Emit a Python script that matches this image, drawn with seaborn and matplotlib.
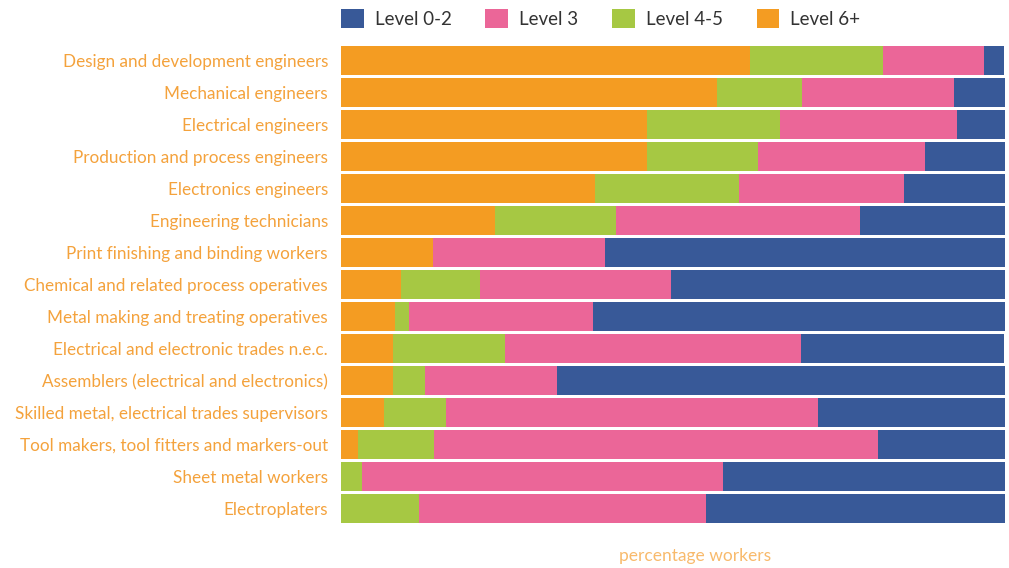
import pandas as pd
import matplotlib.pyplot as plt
import seaborn as sns
from matplotlib.patches import Patch

# --------------------------
# Data (percentage of workers by qualification level)
# --------------------------
occupations = [
    "Design and development engineers",
    "Mechanical engineers",
    "Electrical engineers",
    "Production and process engineers",
    "Electronics engineers",
    "Engineering technicians",
    "Print finishing and binding workers",
    "Chemical and related process operatives",
    "Metal making and treating operatives",
    "Electrical and electronic trades n.e.c.",
    "Assemblers (electrical and electronics)",
    "Skilled metal, electrical trades supervisors",
    "Tool makers, tool fitters and markers-out",
    "Sheet metal workers",
    "Electroplaters",
]
level_6_plus = [61.6, 56.6, 46.1, 46.1, 38.2, 23.2, 13.8, 9.1, 8.2, 7.8, 7.8, 6.5, 2.6, 0.0, 0.0]
level_4_5 = [20.1, 12.9, 20.0, 16.7, 21.7, 18.2, 0.0, 11.8, 2.0, 16.9, 4.8, 9.3, 11.4, 3.2, 11.7]
level_3 = [15.1, 22.8, 26.7, 25.2, 24.9, 36.7, 26.0, 28.8, 27.7, 44.6, 19.9, 56.0, 66.9, 54.4, 43.2]
level_0_2 = [3.1, 7.8, 7.2, 12.1, 15.2, 22.0, 60.2, 50.3, 62.1, 30.5, 67.5, 28.2, 19.1, 42.4, 45.1]

df = pd.DataFrame({
    "occupation": occupations,
    "Level 6+": level_6_plus,
    "Level 4-5": level_4_5,
    "Level 3": level_3,
    "Level 0-2": level_0_2,
})

colors = {
    "Level 0-2": "#385998",
    "Level 3": "#EB6698",
    "Level 4-5": "#A6C843",
    "Level 6+": "#F49C22",
}
label_color = "#F4A23C"

# cumulative sums from the left (6+ first)
df["c_6"] = df["Level 6+"]
df["c_45"] = df["c_6"] + df["Level 4-5"]
df["c_3"] = df["c_45"] + df["Level 3"]
df["c_02"] = df["c_3"] + df["Level 0-2"]

plt.rcParams["font.family"] = ["Lato", "DejaVu Sans"]

fig = plt.figure(figsize=(10.09, 5.68), dpi=100)
ax = fig.add_axes([341 / 1009, 1 - 524.6 / 568, 664 / 1009, 480.2 / 568])

# overlapping bars, longest first
for col, level in [("c_02", "Level 0-2"), ("c_3", "Level 3"),
                   ("c_45", "Level 4-5"), ("c_6", "Level 6+")]:
    sns.barplot(data=df, x=col, y="occupation", orient="h", color=colors[level],
                width=0.9, linewidth=0, saturation=1, ax=ax)

ax.set_xlim(0, 100)
ax.set_ylim(14.5, -0.5)
for s in ax.spines.values():
    s.set_visible(False)
ax.set_xticks([])
ax.set_ylabel("")
ax.set_xlabel("")
ax.tick_params(axis="y", length=0, pad=9.4, labelsize=12.3, labelcolor=label_color)

fig.text(695 / 1009, 1 - 556 / 568, "percentage workers", color="#F8BA6C",
         fontsize=12.5, ha="center", va="center")

handles = [Patch(facecolor=colors[k], edgecolor="none") for k in ["Level 0-2", "Level 3", "Level 4-5", "Level 6+"]]
fig.legend(handles, ["Level 0-2", "Level 3", "Level 4-5", "Level 6+"],
           loc="upper left", bbox_to_anchor=(341 / 1009, 1 - 9 / 568), ncol=4,
           frameon=False, fontsize=13.5, handlelength=1.2, handleheight=1.2,
           borderpad=0, borderaxespad=0,
           handletextpad=0.6, columnspacing=1.8, labelcolor="#333333")

fig.savefig("out.png", dpi=100)
plt.close()
